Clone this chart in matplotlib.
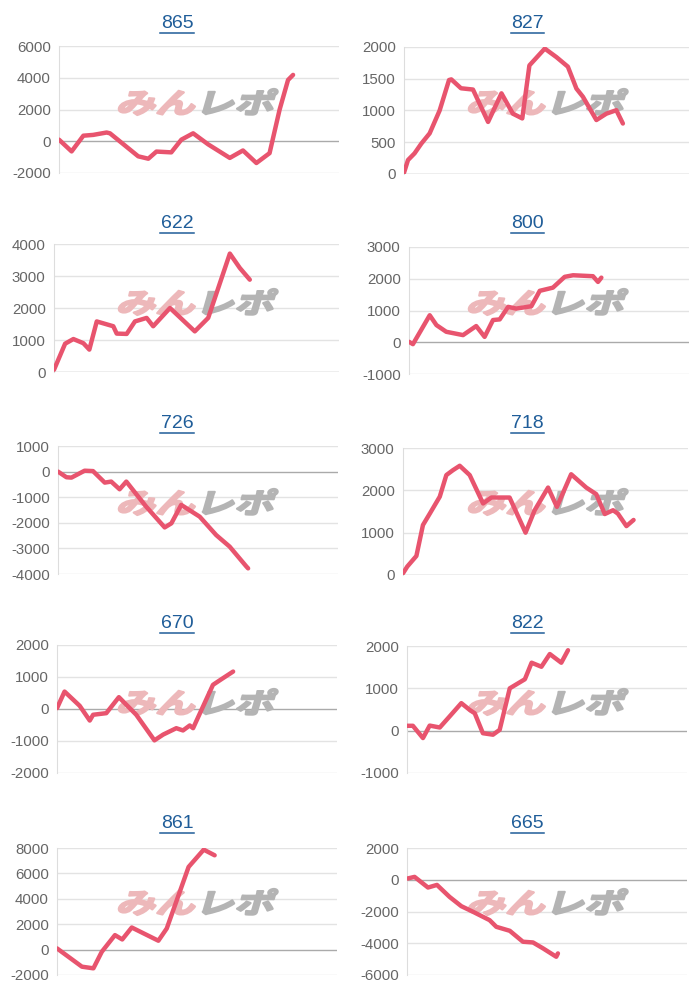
import matplotlib
matplotlib.use("Agg")
import matplotlib.pyplot as plt
from matplotlib.textpath import TextPath
from matplotlib.patches import PathPatch
from matplotlib.font_manager import FontProperties
from matplotlib.transforms import Affine2D
from matplotlib.lines import Line2D

plt.rcParams['font.family'] = ['Liberation Sans', 'DejaVu Sans']
plt.rcParams['axes.unicode_minus'] = False

# ---- data: machine number, x = position in period (0-100), y = balance ----
titles = ['865', '827', '622', '800', '726', '718', '670', '822', '861', '665']

x_865 = [0, 4.5, 8.7, 12.2, 17, 18.2, 28.3, 31.9, 34.8, 40.1, 43.7, 47.9, 53.3, 61, 65.7, 70.5, 75.2, 78.8, 81.8, 83.6]
y_865 = [100, -640, 350, 400, 550, 500, -950, -1100, -650, -700, 100, 500, -200, -1050, -580, -1370, -750, 2000, 3860, 4180]

x_827 = [0, 1.4, 3.7, 6.1, 9, 12.5, 15.8, 16.6, 20, 24.2, 29.5, 34.2, 38.2, 41.5, 44, 49.4, 53.5, 57.5, 60.5, 62.8, 67.5, 71, 74.5, 76.8]
y_827 = [20, 220, 325, 480, 640, 1000, 1480, 1490, 1350, 1330, 820, 1270, 950, 875, 1710, 1975, 1840, 1690, 1345, 1215, 850, 950, 1005, 795]

x_622 = [0, 3.9, 6.8, 10.3, 12.4, 15, 20.8, 22, 25.5, 28.4, 32.5, 34.8, 40.7, 49.4, 54.1, 61.7, 65.2, 68.7]
y_622 = [70, 885, 1030, 900, 700, 1580, 1430, 1200, 1190, 1580, 1690, 1430, 2000, 1270, 1690, 3700, 3250, 2885]

x_800 = [0, 1.4, 7.4, 9.8, 13.3, 19.3, 24, 27, 30, 32.4, 35.4, 38.3, 43.7, 46.7, 51.4, 55.6, 58.6, 65.7, 67.5, 68.7]
y_800 = [15, -60, 850, 540, 330, 225, 510, 170, 700, 720, 1115, 1060, 1135, 1620, 1720, 2060, 2110, 2080, 1900, 2035]

x_726 = [0, 3, 4.8, 9.5, 12.5, 16.7, 19, 22, 24.4, 31.5, 38.1, 40.5, 44, 50.6, 56.5, 61.3, 67.3, 67.9]
y_726 = [0, -220, -235, 35, 20, -430, -390, -690, -390, -1370, -2180, -2020, -1300, -1760, -2480, -2930, -3710, -3780]

x_718 = [0, 1.5, 4.7, 7, 9.4, 12.9, 15.2, 17.5, 19.9, 23.4, 28.1, 31, 37.4, 43, 46.2, 50.9, 54, 59, 64.3, 67.8, 70.8, 73.7, 75.4, 78.4, 80.9]
y_718 = [40, 200, 450, 1180, 1450, 1850, 2360, 2475, 2580, 2360, 1690, 1830, 1830, 1000, 1530, 2065, 1610, 2380, 2065, 1910, 1440, 1530, 1450, 1155, 1300]

x_670 = [0, 2.7, 8.1, 11.7, 12.9, 17.6, 22.1, 28.3, 34.8, 37.9, 42.6, 45, 47.4, 48.6, 55.7, 58.7, 62.9]
y_670 = [25, 545, 100, -360, -180, -130, 370, -180, -980, -800, -600, -670, -515, -600, 755, 930, 1170]

x_822 = [0, 2.1, 5.7, 8.1, 11.7, 15.2, 19.4, 22.4, 24.2, 27.1, 30.7, 33.1, 36.7, 42.1, 44.5, 48, 51, 55.1, 57.5]
y_822 = [115, 115, -175, 120, 75, 335, 650, 490, 410, -60, -95, 20, 1000, 1215, 1605, 1510, 1810, 1605, 1900]

x_861 = [0, 8.9, 13, 16, 20.7, 23.3, 26.7, 36.2, 39.2, 47, 52.4, 56.3]
y_861 = [95, -1345, -1475, -170, 1140, 800, 1740, 700, 1665, 6510, 7870, 7425]

x_665 = [0, 2.7, 7.5, 10.7, 15.2, 19.4, 23.6, 29.5, 31.9, 36.7, 41.4, 45, 48.6, 53.3, 53.9]
y_665 = [70, 180, -490, -325, -1080, -1665, -2020, -2545, -2965, -3215, -3905, -3950, -4325, -4850, -4640]

xs = [x_865, x_827, x_622, x_800, x_726, x_718, x_670, x_822, x_861, x_665]
ys = [y_865, y_827, y_622, y_800, y_726, y_718, y_670, y_822, y_861, y_665]

# y axis range and tick step per panel
y_lo = [-2000, 0, 0, -1000, -4000, 0, -2000, -1000, -2000, -6000]
y_hi = [6000, 2000, 4000, 3000, 1000, 3000, 2000, 2000, 8000, 2000]
y_step = [2000, 500, 1000, 1000, 1000, 1000, 1000, 1000, 2000, 2000]

# ---- layout in pixels (left, right, top, bottom) ----
boxes = [(59, 339, 46, 173), (404, 689, 47, 174),
         (54, 339, 244, 372), (409, 689, 247, 374),
         (58, 338, 446, 574), (403, 688, 448, 575),
         (57, 337, 645, 773), (407, 687, 646, 773),
         (57, 337, 848, 975), (407, 687, 848, 975)]
W, H = 700, 1000

LINE = '#e8546e'
TITLE = '#1f5d99'
fig = plt.figure(figsize=(7, 10), dpi=100)
fig.patch.set_facecolor('white')

# watermark glyph outlines
jp = FontProperties(family='Noto Sans CJK JP', weight='bold')
tp_a = TextPath((0, 0), 'みん', size=1, prop=jp)
ea = tp_a.get_extents()
tp_b = TextPath((ea.x1 + 0.04, 0), 'レポ', size=1, prop=jp)
eb = tp_b.get_extents()
wm_w = eb.x1 - ea.x0
wm_y0 = min(ea.y0, eb.y0)
wm_h = max(ea.y1, eb.y1) - wm_y0

for i in range(10):
    l, r, t, b = boxes[i]
    ax = fig.add_axes([l / W, 1 - b / H, (r - l) / W, (b - t) / H])
    ax.set_xlim(0, 100)
    ax.set_ylim(y_lo[i], y_hi[i])
    ticks = list(range(y_lo[i], y_hi[i] + 1, y_step[i]))
    ax.set_yticks(ticks)
    ax.set_xticks([])
    ax.tick_params(axis='y', length=0, pad=6, labelsize=10.8, labelcolor='#666666')
    for s in ['top', 'right', 'bottom']:
        ax.spines[s].set_visible(False)
    ax.spines['left'].set_color('#dddddd')
    for tv in ticks:
        if tv == 0:
            ax.axhline(0, color='#aaaaaa', lw=1, zorder=0.6)
        else:
            ax.axhline(tv, color='#e3e3e3', lw=1, zorder=0.5)

    # watermark logo, same spot in every panel (stroked to look heavier)
    col = 0 if i % 2 == 0 else 350
    row = (i // 2) * 200
    bx0, by0 = (col + 117) / 100, (H - row - 115) / 100
    sx, sy = 1.54 / wm_w, 0.26 / wm_h
    tr = Affine2D().translate(-ea.x0, -wm_y0).scale(sx, sy).skew_deg(16, 0) \
        .translate(bx0, by0) + fig.dpi_scale_trans
    ax.add_patch(PathPatch(tp_a, transform=tr, fc='#edb8ba', ec='#edb8ba', lw=1.6,
                           joinstyle='round', clip_on=False, zorder=1.5))
    ax.add_patch(PathPatch(tp_b, transform=tr, fc='#b4b4b4', ec='#b4b4b4', lw=1.6,
                           joinstyle='round', clip_on=False, zorder=1.5))

    ax.plot(xs[i], ys[i], color=LINE, lw=3.2, solid_joinstyle='round',
            solid_capstyle='round', zorder=3)

    # underlined link-style title
    cx = (col + 177) / W
    fig.text(cx, 1 - (row + 23) / H, titles[i], ha='center', va='center',
             fontsize=14, color=TITLE)
    fig.add_artist(Line2D([cx - 16.5 / W, cx + 16.5 / W], [1 - (row + 33) / H] * 2,
                          color=TITLE, lw=1.1))

fig.savefig('out.png', dpi=100, facecolor='white')
